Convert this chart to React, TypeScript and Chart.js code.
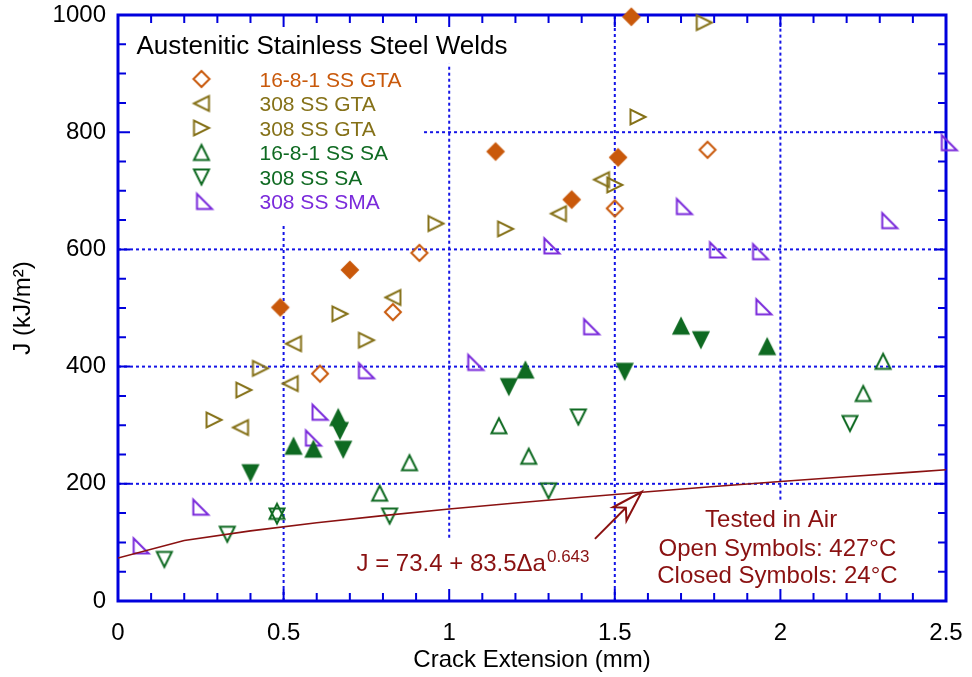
import React, { useEffect, useRef } from 'react';
import { Chart, registerables } from 'chart.js';

Chart.register(...registerables);

const FONT = "'Liberation Sans', Arial, Helvetica, sans-serif";

// ---- axis ticks ----
const X_MIN = 0;
const X_MAX = 2.5;
const X_STEP = 0.5;
const X_MINOR = 0.1;
const Y_MIN = 0;
const Y_MAX = 1000;
const Y_STEP = 200;
const Y_MINOR = 50;

// ---- data (open = 427°C, closed = 24°C) ----
// 16-8-1 SS GTA
const gta1681OpenX = [0.61, 0.83, 0.91, 1.5, 1.78];
const gta1681OpenY = [388, 493, 594, 670, 770];
const gta1681ClosedX = [0.49, 0.7, 1.14, 1.37, 1.51, 1.55];
const gta1681ClosedY = [501, 565, 767, 685, 757, 997];
// 308 SS GTA (left-pointing)
const gta308LeftX = [0.37, 0.52, 0.53, 0.83, 1.33, 1.46];
const gta308LeftY = [296, 371, 439, 518, 661, 719];
// 308 SS GTA (right-pointing)
const gta308RightX = [0.29, 0.38, 0.43, 0.67, 0.75, 0.96, 1.17, 1.5, 1.57, 1.77];
const gta308RightY = [309, 360, 397, 490, 445, 644, 635, 710, 826, 987];
// 16-8-1 SS SA
const sa1681OpenX = [0.48, 0.79, 0.88, 1.15, 1.24, 2.25, 2.31];
const sa1681OpenY = [153, 184, 236, 299, 247, 354, 409];
const sa1681ClosedX = [0.53, 0.59, 0.665, 1.23, 1.7, 1.96];
const sa1681ClosedY = [264, 259, 313, 394, 469, 434];
// 308 SS SA
const sa308OpenX = [0.14, 0.33, 0.48, 0.82, 1.3, 1.39, 2.21];
const sa308OpenY = [71, 114, 145, 145, 188, 314, 303];
const sa308ClosedX = [0.4, 0.67, 0.68, 1.18, 1.53, 1.76];
const sa308ClosedY = [219, 291, 259, 366, 392, 446];
// 308 SS SMA
const sma308X = [0.07, 0.25, 0.59, 0.61, 0.75, 1.08, 1.31, 1.43, 1.71, 1.81, 1.94, 1.95, 2.33, 2.51];
const sma308Y = [94, 160, 278, 322, 393, 407, 606, 468, 673, 599, 596, 502, 649, 782];

// fit: J = 73.4 + 83.5 Δa^0.643
const fitX = [0, 0.2, 0.4, 0.6, 0.8, 1.0, 1.2, 1.4, 1.6, 1.8, 2.0, 2.2, 2.4, 2.5];
const fitY = [73.4, 103.1, 119.7, 133.5, 145.7, 156.9, 167.3, 177.1, 186.4, 195.3, 203.8, 212.0, 220.0, 223.9];

// ---- texts ----
const LEGEND_TITLE = 'Austenitic Stainless Steel Welds';
const LEGEND_LABELS = ['16-8-1 SS GTA', '308 SS GTA', '308 SS GTA', '16-8-1 SS SA', '308 SS SA', '308 SS SMA'];
const EQ_MAIN = 'J = 73.4 + 83.5\u0394a';
const EQ_SUP = '0.643';
const NOTE_LINES = ['Tested in Air', 'Open Symbols: 427\u00B0C', 'Closed Symbols: 24\u00B0C'];

// annotation anchors (data units)
const EQ_AT = { x: 0.72, y: 50.5 };
const ARROW_TAIL = { x: 1.44, y: 106 };
const ARROW_TIP = { x: 1.581, y: 186 };
const NOTE_AT = [
  { x: 1.972, y: 127 },
  { x: 1.991, y: 76 },
  { x: 1.991, y: 30 },
];
// dotted grid segments: [value, from, to]
const GRID_V = [
  [0.5, 0, 640],
  [1.0, 108, 917],
  [1.5, 0, 1000],
  [2.0, 173, 1000],
];
const GRID_H = [
  [200, 0, 2.5],
  [400, 0, 2.5],
  [600, 0, 2.5],
  [800, 0.924, 2.5],
];

// ---- colours ----
const ORANGE = '#C9590B';
const OLIVE = '#857118';
const GREEN = '#0F6A22';
const PURPLE = '#7A2ADB';
const MAROON = '#8A1111';
const AXIS_BLUE = '#0000DD';
const GRID_BLUE = '#1414E6';

type Shape = 'diamond' | 'up' | 'down' | 'left' | 'right' | 'rt';

function makeMarker(shape: Shape, color: string, filled: boolean): HTMLCanvasElement {
  const c = document.createElement('canvas');
  c.width = 28;
  c.height = 28;
  const ctx = c.getContext('2d')!;
  const cx = 14, cy = 14;
  const s = 7.5;
  ctx.beginPath();
  if (shape === 'diamond') {
    ctx.moveTo(cx, cy - s - 0.5);
    ctx.lineTo(cx + s + 0.5, cy);
    ctx.lineTo(cx, cy + s + 0.5);
    ctx.lineTo(cx - s - 0.5, cy);
  } else if (shape === 'up') {
    ctx.moveTo(cx, cy - s);
    ctx.lineTo(cx + s, cy + s);
    ctx.lineTo(cx - s, cy + s);
  } else if (shape === 'down') {
    ctx.moveTo(cx, cy + s);
    ctx.lineTo(cx + s, cy - s);
    ctx.lineTo(cx - s, cy - s);
  } else if (shape === 'left') {
    ctx.moveTo(cx - s, cy);
    ctx.lineTo(cx + s, cy - s);
    ctx.lineTo(cx + s, cy + s);
  } else if (shape === 'right') {
    ctx.moveTo(cx + s, cy);
    ctx.lineTo(cx - s, cy - s);
    ctx.lineTo(cx - s, cy + s);
  } else {
    ctx.moveTo(cx - s, cy - s);
    ctx.lineTo(cx - s, cy + s);
    ctx.lineTo(cx + s, cy + s);
  }
  ctx.closePath();
  ctx.lineJoin = 'miter';
  ctx.lineWidth = 2;
  ctx.strokeStyle = color;
  if (filled) {
    ctx.fillStyle = color;
    ctx.fill();
  }
  ctx.stroke();
  return c;
}

function pts(xs: number[], ys: number[]) {
  return xs.map((x, i) => ({ x, y: ys[i] }));
}

export default function App() {
  const ref = useRef<HTMLCanvasElement | null>(null);

  useEffect(() => {
    if (!ref.current) return;
    const m = {
      diamondO: makeMarker('diamond', ORANGE, false),
      diamondF: makeMarker('diamond', ORANGE, true),
      leftO: makeMarker('left', OLIVE, false),
      rightO: makeMarker('right', OLIVE, false),
      upO: makeMarker('up', GREEN, false),
      upF: makeMarker('up', GREEN, true),
      downO: makeMarker('down', GREEN, false),
      downF: makeMarker('down', GREEN, true),
      rtO: makeMarker('rt', PURPLE, false),
    };

    const scatter = (label: string, xs: number[], ys: number[], style: HTMLCanvasElement) => ({
      type: 'scatter' as const,
      label,
      data: pts(xs, ys),
      pointStyle: style,
      pointRadius: 8,
      pointHoverRadius: 8,
      showLine: false,
      clip: false as any,
    });

    const decor = {
      id: 'decor',
      beforeDatasetsDraw(chart: any) {
        const { ctx, chartArea: a, scales } = chart;
        const xs = scales.x, ys = scales.y;
        ctx.save();
        // dotted grid
        ctx.strokeStyle = GRID_BLUE;
        ctx.lineWidth = 2;
        ctx.setLineDash([3, 3]);
        for (const [v, y0, y1] of GRID_V) {
          const px = xs.getPixelForValue(v);
          ctx.beginPath();
          ctx.moveTo(px, ys.getPixelForValue(y0));
          ctx.lineTo(px, ys.getPixelForValue(y1));
          ctx.stroke();
        }
        for (const [v, x0, x1] of GRID_H) {
          const py = ys.getPixelForValue(v);
          ctx.beginPath();
          ctx.moveTo(xs.getPixelForValue(x0), py);
          ctx.lineTo(xs.getPixelForValue(x1), py);
          ctx.stroke();
        }
        ctx.setLineDash([]);
        // ticks
        ctx.strokeStyle = AXIS_BLUE;
        ctx.lineWidth = 2;
        const nx = Math.round((X_MAX - X_MIN) / X_MINOR);
        for (let i = 0; i <= nx; i++) {
          const v = X_MIN + i * X_MINOR;
          const major = i % Math.round(X_STEP / X_MINOR) === 0;
          const len = major ? 12 : 8;
          const px = xs.getPixelForValue(v);
          ctx.beginPath();
          ctx.moveTo(px, a.bottom);
          ctx.lineTo(px, a.bottom - len);
          ctx.moveTo(px, a.top);
          ctx.lineTo(px, a.top + len);
          ctx.stroke();
        }
        const ny = Math.round((Y_MAX - Y_MIN) / Y_MINOR);
        for (let i = 0; i <= ny; i++) {
          const v = Y_MIN + i * Y_MINOR;
          const major = i % Math.round(Y_STEP / Y_MINOR) === 0;
          const len = major ? 12 : 8;
          const py = ys.getPixelForValue(v);
          ctx.beginPath();
          ctx.moveTo(a.left, py);
          ctx.lineTo(a.left + len, py);
          ctx.moveTo(a.right, py);
          ctx.lineTo(a.right - len, py);
          ctx.stroke();
        }
        // frame
        ctx.lineWidth = 3;
        ctx.strokeRect(a.left, a.top, a.right - a.left, a.bottom - a.top);
        ctx.restore();
      },
      afterDatasetsDraw(chart: any) {
        const { ctx, chartArea: a, scales } = chart;
        const xs = scales.x, ys = scales.y;
        ctx.save();
        // legend
        ctx.fillStyle = '#000';
        ctx.font = `26px ${FONT}`;
        ctx.textAlign = 'left';
        ctx.textBaseline = 'alphabetic';
        ctx.fillText(LEGEND_TITLE, a.left + 18.5, a.top + 38.5);
        const legendMarks = [m.diamondO, m.leftO, m.rightO, m.upO, m.downO, m.rtO];
        const legendColors = [ORANGE, OLIVE, OLIVE, GREEN, GREEN, PURPLE];
        ctx.font = `21px ${FONT}`;
        LEGEND_LABELS.forEach((lab, i) => {
          const cy = a.top + 64 + i * 24.5;
          const cx = a.left + 83.5 + (i === 5 ? 3 : 0);
          const img = legendMarks[i];
          ctx.drawImage(img, cx - img.width / 2, cy - img.height / 2);
          ctx.fillStyle = legendColors[i];
          ctx.fillText(lab, a.left + 141.5, cy + 7.5);
        });
        // equation
        ctx.fillStyle = MAROON;
        ctx.font = `24px ${FONT}`;
        const ex = xs.getPixelForValue(EQ_AT.x);
        const ey = ys.getPixelForValue(EQ_AT.y);
        ctx.fillText(EQ_MAIN, ex, ey);
        const w = ctx.measureText(EQ_MAIN).width;
        ctx.font = `17px ${FONT}`;
        ctx.fillText(EQ_SUP, ex + w + 1, ey - 9);
        // arrow
        const tx = xs.getPixelForValue(ARROW_TAIL.x), ty = ys.getPixelForValue(ARROW_TAIL.y);
        const hx = xs.getPixelForValue(ARROW_TIP.x), hy = ys.getPixelForValue(ARROW_TIP.y);
        const dx = tx - hx, dy = ty - hy;
        const d = Math.hypot(dx, dy);
        const ux = dx / d, uy = dy / d;
        const nx2 = -uy, ny2 = ux;
        const L = 31, W = 9.5;
        const w1x = hx + ux * L + nx2 * W, w1y = hy + uy * L + ny2 * W;
        const w2x = hx + ux * L - nx2 * W, w2y = hy + uy * L - ny2 * W;
        const kx = hx + ux * L * 0.72, ky = hy + uy * L * 0.72;
        ctx.strokeStyle = MAROON;
        ctx.lineWidth = 2;
        ctx.lineJoin = 'miter';
        ctx.beginPath();
        ctx.moveTo(hx, hy);
        ctx.lineTo(w1x, w1y);
        ctx.lineTo(kx, ky);
        ctx.lineTo(w2x, w2y);
        ctx.closePath();
        ctx.stroke();
        ctx.beginPath();
        ctx.moveTo(kx, ky);
        ctx.lineTo(tx, ty);
        ctx.stroke();
        // notes
        ctx.font = `24px ${FONT}`;
        ctx.textAlign = 'center';
        NOTE_LINES.forEach((t, i) => {
          ctx.fillText(t, xs.getPixelForValue(NOTE_AT[i].x), ys.getPixelForValue(NOTE_AT[i].y));
        });
        ctx.restore();
      },
    };

    const zeroPad = (s: any) => {
      s.paddingTop = 0;
      s.paddingBottom = 0;
      s.paddingLeft = 0;
      s.paddingRight = 0;
    };

    const chart = new Chart(ref.current, {
      type: 'scatter',
      data: {
        datasets: [
          {
            type: 'scatter',
            label: 'fit',
            data: pts(fitX, fitY),
            showLine: true,
            borderColor: MAROON,
            borderWidth: 1.6,
            pointRadius: 0,
            pointHoverRadius: 0,
            fill: false,
          } as any,
          scatter('16-8-1 SS GTA 427', gta1681OpenX, gta1681OpenY, m.diamondO),
          scatter('16-8-1 SS GTA 24', gta1681ClosedX, gta1681ClosedY, m.diamondF),
          scatter('308 SS GTA L', gta308LeftX, gta308LeftY, m.leftO),
          scatter('308 SS GTA R', gta308RightX, gta308RightY, m.rightO),
          scatter('16-8-1 SS SA 427', sa1681OpenX, sa1681OpenY, m.upO),
          scatter('16-8-1 SS SA 24', sa1681ClosedX, sa1681ClosedY, m.upF),
          scatter('308 SS SA 427', sa308OpenX, sa308OpenY, m.downO),
          scatter('308 SS SA 24', sa308ClosedX, sa308ClosedY, m.downF),
          scatter('308 SS SMA', sma308X, sma308Y, m.rtO),
        ] as any,
      },
      options: {
        responsive: false,
        animation: false,
        events: [],
        layout: { padding: { top: 15, right: 26, left: 0, bottom: 0 } },
        plugins: {
          legend: { display: false },
          tooltip: { enabled: false },
        },
        scales: {
          x: {
            type: 'linear',
            min: X_MIN,
            max: X_MAX,
            grid: { display: false, drawTicks: false },
            border: { display: false },
            ticks: {
              stepSize: X_STEP,
              padding: 18,
              color: '#000',
              font: { size: 24, family: FONT },
              callback: (v: any) => String(v),
            },
            title: {
              display: true,
              text: 'Crack Extension (mm)',
              color: '#000',
              font: { size: 24, family: FONT },
              padding: { top: 0, bottom: 2 },
            },
            afterFit: (s: any) => {
              s.height = 76;
              zeroPad(s);
            },
          },
          y: {
            type: 'linear',
            min: Y_MIN,
            max: Y_MAX,
            grid: { display: false, drawTicks: false },
            border: { display: false },
            ticks: {
              stepSize: Y_STEP,
              padding: 12,
              color: '#000',
              font: { size: 24, family: FONT },
              callback: (v: any) => String(v),
            },
            title: {
              display: true,
              text: 'J (kJ/m\u00B2)',
              color: '#000',
              font: { size: 24, family: FONT },
              padding: { top: 9, bottom: 0 },
            },
            afterFit: (s: any) => {
              s.width = 118;
              zeroPad(s);
            },
          },
        },
      } as any,
      plugins: [decor],
    });

    return () => chart.destroy();
  }, []);

  return (
    <div style={{ position: 'absolute', left: 0, top: 0, width: 972, height: 677, background: '#fff' }}>
      <canvas ref={ref} width={972} height={677} style={{ display: 'block', width: 972, height: 677 }} />
    </div>
  );
}
